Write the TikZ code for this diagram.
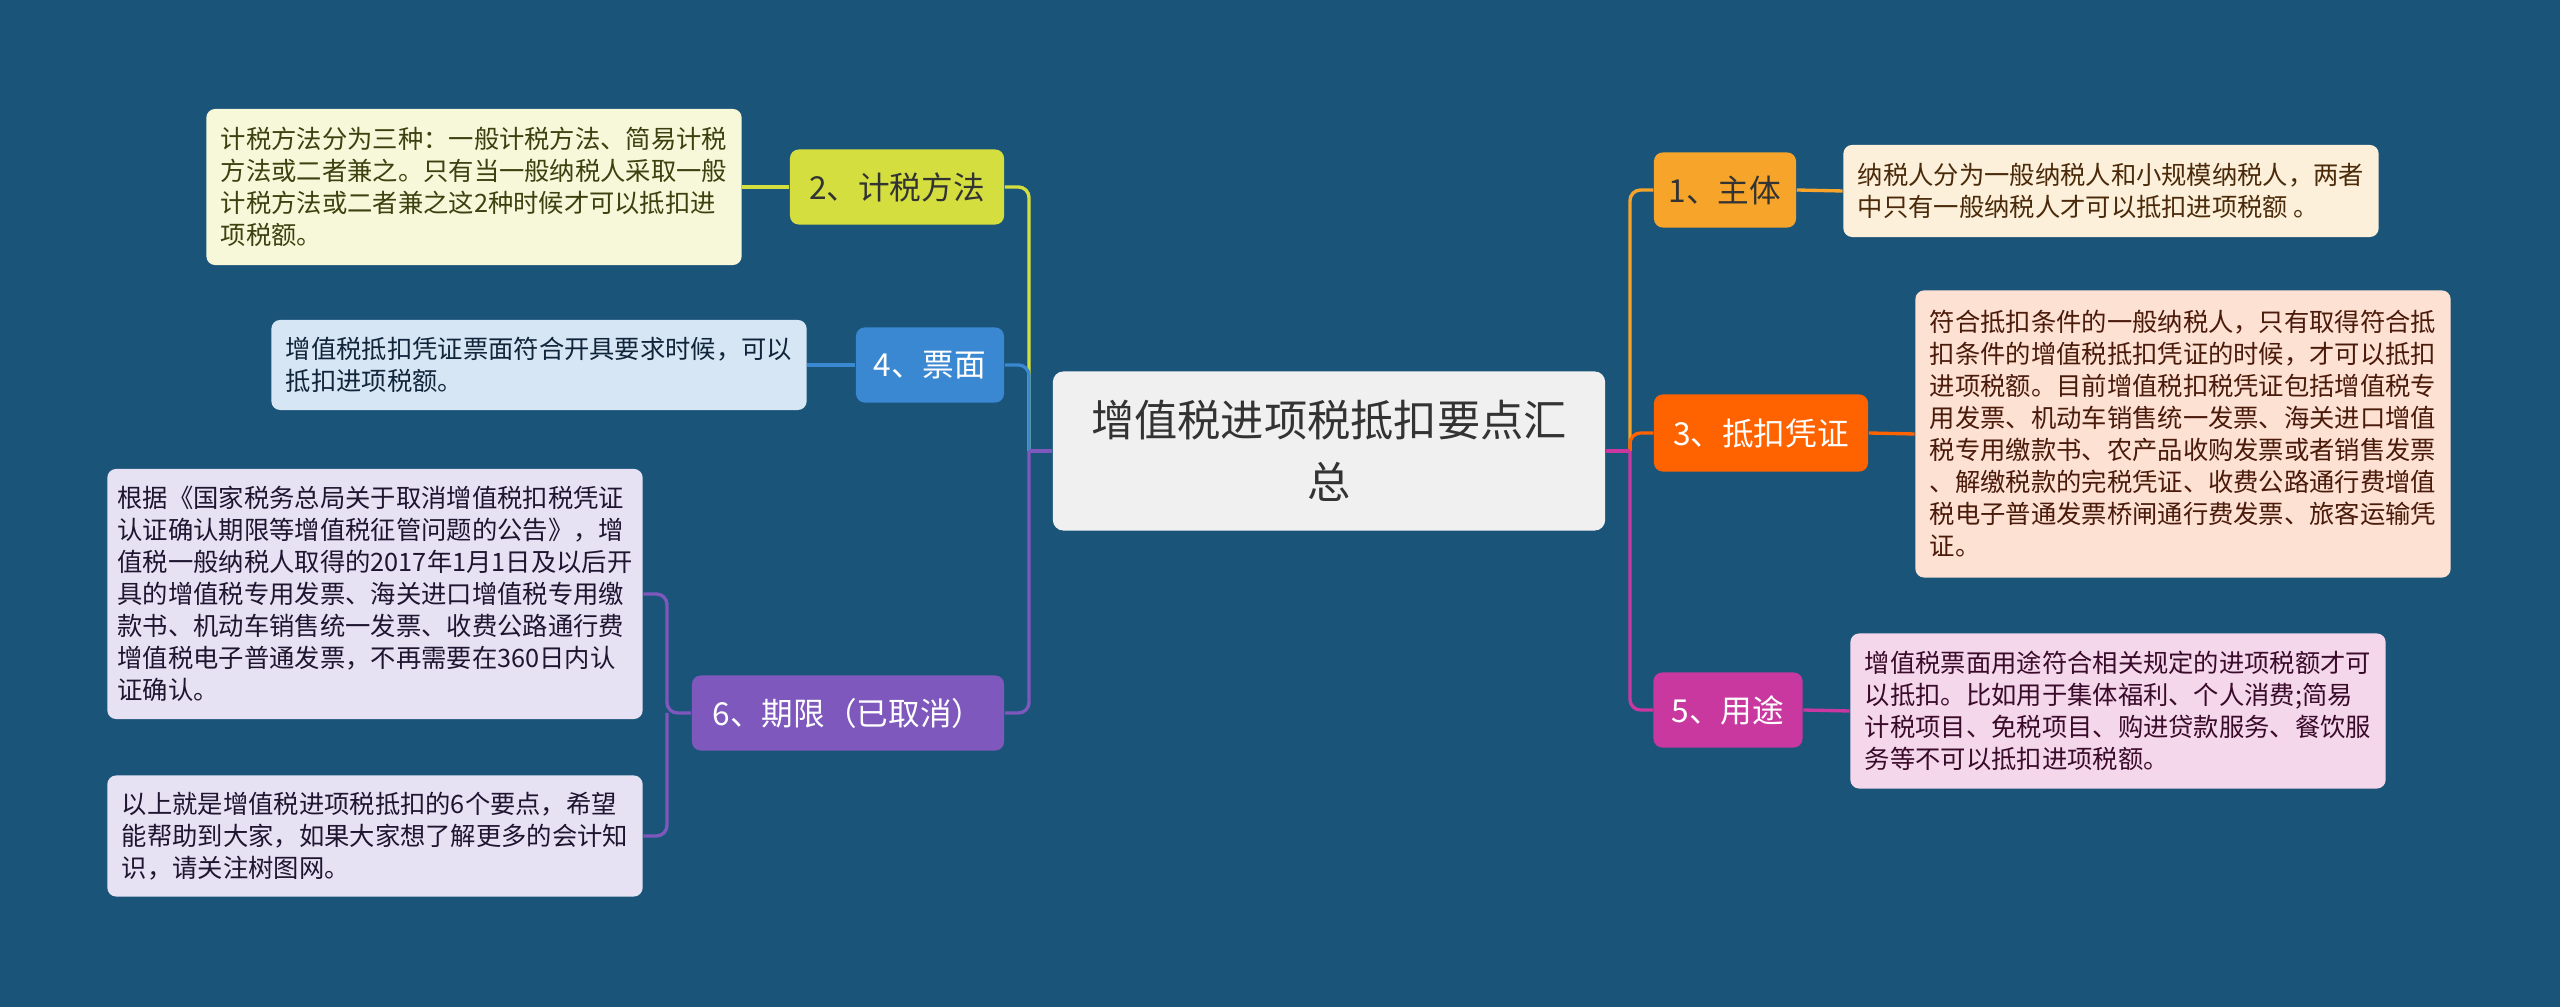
\documentclass[tikz,border=0pt]{standalone}
\usepackage{fontspec}
\setmainfont{Noto Sans CJK SC}
\usepackage{xcolor}
\usepackage{tikz}
\usetikzlibrary{positioning,calc}
\definecolor{bg}{HTML}{1B5479}
\definecolor{rootbg}{HTML}{F0F0F0}
\definecolor{ink}{HTML}{333333}
\definecolor{c1}{HTML}{F6A52A}
\definecolor{c2}{HTML}{D4DF3F}
\definecolor{c3}{HTML}{FF6300}
\definecolor{c4}{HTML}{3A87D2}
\definecolor{c5}{HTML}{C8389F}
\definecolor{c6}{HTML}{7E58BC}
\definecolor{l1}{HTML}{FCF0DA}
\definecolor{l2}{HTML}{F6F8D9}
\definecolor{l3}{HTML}{FDE1D3}
\definecolor{l4}{HTML}{D6E6F5}
\definecolor{l5}{HTML}{F4D7EB}
\definecolor{l6}{HTML}{E7E2F3}
\definecolor{t1}{HTML}{4A2A0A}
\definecolor{t2}{HTML}{3E4010}
\definecolor{t3}{HTML}{4A1A0A}
\definecolor{t4}{HTML}{10253A}
\definecolor{t5}{HTML}{3A0A2A}
\definecolor{t6}{HTML}{1E1530}

\begin{document}
\begin{tikzpicture}[
  x=0.01cm,y=-0.01cm,
  root/.style={fill=rootbg,text=ink,rounded corners=3pt,align=center,inner sep=0pt,
    font=\fontsize{12.3pt}{17.6pt}\selectfont,minimum width=5.52cm,minimum height=1.59cm},
  topic/.style={rounded corners=2.5pt,inner sep=0pt,font=\fontsize{9pt}{11pt}\selectfont,minimum height=0.75cm},
  leaf/.style={rounded corners=2.5pt,align=left,inner sep=0pt,font=\fontsize{7.2pt}{9.1pt}\selectfont,minimum width=5.35cm},
  link/.style={line width=0.95pt,rounded corners=3pt}]
  \fill[bg] (0,0) rectangle (2560,1007);
  \useasboundingbox (0,0) rectangle (2560,1007);
  \node[root] (root) at (1329,451) {增值税进项税抵扣要点汇\\总};
  % left branches
  \node[topic,fill=c2,text=ink,minimum width=2.14cm] (fangfa) at (897,187) {2、计税方法};
  \node[topic,fill=c4,text=white,minimum width=1.48cm] (piao) at (930,365) {4、票面};
  \node[topic,fill=c6,text=white,minimum width=3.12cm] (qixian) at (848,713) {6、期限（已取消）};
  \node[leaf,fill=l2,text=t2,minimum height=1.56cm] (fangfa-t) at (474,187) {计税方法分为三种：一般计税方法、简易计税\\方法或二者兼之。只有当一般纳税人采取一般\\计税方法或二者兼之这2种时候才可以抵扣进\\项税额。};
  \node[leaf,fill=l4,text=t4,minimum height=0.9cm] (piao-t) at (539,365) {增值税抵扣凭证票面符合开具要求时候，可以\\抵扣进项税额。};
  \node[leaf,fill=l6,text=t6,minimum height=2.5cm] (qixian-a) at (375,594) {根据《国家税务总局关于取消增值税扣税凭证\\认证确认期限等增值税征管问题的公告》，增\\值税一般纳税人取得的2017年1月1日及以后开\\具的增值税专用发票、海关进口增值税专用缴\\款书、机动车销售统一发票、收费公路通行费\\增值税电子普通发票，不再需要在360日内认\\证确认。};
  \node[leaf,fill=l6,text=t6,minimum height=1.21cm] (qixian-b) at (375,836) {以上就是增值税进项税抵扣的6个要点，希望\\能帮助到大家，如果大家想了解更多的会计知\\识，请关注树图网。};
  % right branches
  \node[topic,fill=c1,text=ink,minimum width=1.42cm] (zhuti) at (1725,190) {1、主体};
  \node[topic,fill=c3,text=white,minimum width=2.14cm,minimum height=0.77cm] (pingzheng) at (1761,433) {3、抵扣凭证};
  \node[topic,fill=c5,text=white,minimum width=1.49cm] (yongtu) at (1728,710) {5、用途};
  \node[leaf,fill=l1,text=t1,minimum height=0.92cm] (zhuti-t) at (2111,191) {纳税人分为一般纳税人和小规模纳税人，两者\\中只有一般纳税人才可以抵扣进项税额 。};
  \node[leaf,fill=l3,text=t3,minimum height=2.87cm] (pingzheng-t) at (2183,434) {符合抵扣条件的一般纳税人，只有取得符合抵\\扣条件的增值税抵扣凭证的时候，才可以抵扣\\进项税额。目前增值税扣税凭证包括增值税专\\用发票、机动车销售统一发票、海关进口增值\\税专用缴款书、农产品收购发票或者销售发票\\、解缴税款的完税凭证、收费公路通行费增值\\税电子普通发票桥闸通行费发票、旅客运输凭\\证。};
  \node[leaf,fill=l5,text=t5,minimum height=1.55cm] (yongtu-t) at (2118,711) {增值税票面用途符合相关规定的进项税额才可\\以抵扣。比如用于集体福利、个人消费;简易\\计税项目、免税项目、购进贷款服务、餐饮服\\务等不可以抵扣进项税额。};
  % connectors
  \coordinate (lj) at (1029,451);
  \coordinate (rj) at (1630,451);
  \coordinate (qj) at (667,713);
  \draw[link,c2] (lj) |- (fangfa.east);
  \draw[link,c4] (lj) |- (piao.east);
  \draw[link,c6] (lj) |- (qixian.east);
  \draw[link,c6] (root.west) -- (lj);
  \draw[link,c1] (rj) |- (zhuti.west);
  \draw[link,c3] (rj) |- (pingzheng.west);
  \draw[link,c5] (rj) |- (yongtu.west);
  \draw[link,c5] (root.east) -- (rj);
  \draw[link,c2] (fangfa.west) -- (fangfa-t.east);
  \draw[link,c4] (piao.west) -- (piao-t.east);
  \draw[link,c6] (qixian.west) -- (qj) |- (qixian-a.east);
  \draw[link,c6] (qj) |- (qixian-b.east);
  \draw[link,c1] (zhuti.east) -- (zhuti-t.west);
  \draw[link,c3] (pingzheng.east) -- (pingzheng-t.west);
  \draw[link,c5] (yongtu.east) -- (yongtu-t.west);
\end{tikzpicture}
\end{document}
